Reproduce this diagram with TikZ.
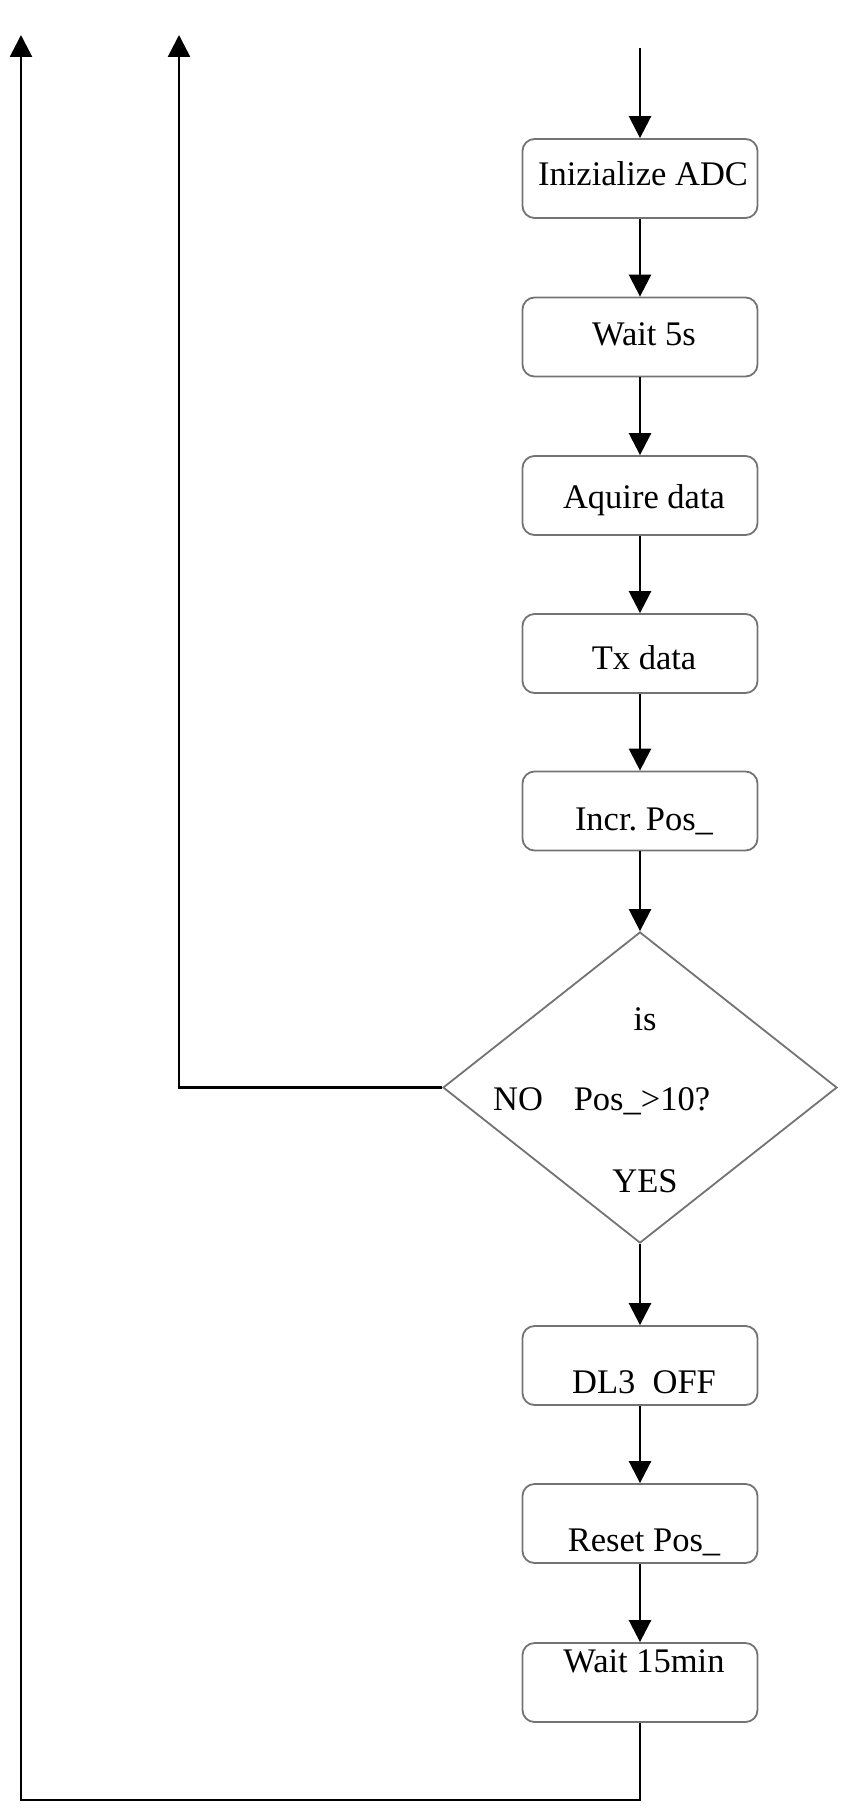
\documentclass[tikz,border=0pt]{standalone}
\usepackage{fontspec}
\setmainfont{Liberation Serif}
\usepackage{tikz}
\tikzset{
    flowbox/.style={draw=black!55, line width=0.9pt, rounded corners=6pt, minimum width=117.5pt, minimum height=39.5pt, inner sep=0pt},
    flowdecision/.style={draw=black!55, line width=0.9pt, diamond, minimum width=197pt, minimum height=155.5pt, inner sep=0pt},
    flowtext/.style={anchor=base, inner sep=0pt, font=\fontsize{17.25}{20}\selectfont},
    flowline/.style={line width=1.3pt, -{Triangle[length=11pt, width=11pt]}}
}
\usetikzlibrary{arrows.meta,shapes.geometric}

\begin{document}
\begin{tikzpicture}[x=0.5pt, y=-0.5pt]
    \useasboundingbox (0,0) rectangle (842,1809);
    % boxes
    \node[flowbox] (init) at (640,178.5) {};
    \node[flowbox] (wait) at (640,337) {};
    \node[flowbox] (aquire) at (640,495.5) {};
    \node[flowbox] (tx) at (640,653.5) {};
    \node[flowbox] (incr) at (640,811) {};
    \node[flowdecision] (test) at (640,1087.5) {};
    \node[flowbox] (dloff) at (640,1365.5) {};
    \node[flowbox] (reset) at (640,1523.5) {};
    \node[flowbox] (longwait) at (640,1682.5) {};
    % texts
    \node[flowtext] (tinit) at (643,185) {Inizialize ADC};
    \node[flowtext] (twait) at (644,345) {Wait 5s};
    \node[flowtext] (taquire) at (644,508) {Aquire data};
    \node[flowtext] (ttx) at (644,669) {Tx data};
    \node[flowtext] (tincr) at (644,830) {Incr.\ Pos\_};
    \node[flowtext] (tis) at (645,1030) {is};
    \node[flowtext] (tno) at (518,1110) {NO};
    \node[flowtext] (tcond) at (642,1110) {Pos\_>10?};
    \node[flowtext] (tyes) at (645,1192) {YES};
    \node[flowtext] (tdloff) at (644,1393) {DL3\ \ OFF};
    \node[flowtext] (treset) at (644,1551) {Reset Pos\_};
    \node[flowtext] (tlongwait) at (644,1672) {Wait 15min};
    % loose ends
    \coordinate (entry) at (640,48);
    \coordinate (outer) at (21,35);
    \coordinate (inner) at (179,35);
    \coordinate (corner) at (21,1800);
    % main flow
    \draw[flowline] (entry) -- (init.north);
    \draw[flowline] (init) -- (wait);
    \draw[flowline] (wait) -- (aquire);
    \draw[flowline] (aquire) -- (tx);
    \draw[flowline] (tx) -- (incr);
    \draw[flowline] (incr) -- (test);
    \draw[flowline] (test) -- (dloff);
    \draw[flowline] (dloff) -- (reset);
    \draw[flowline] (reset) -- (longwait);
    % loops back
    \draw[flowline] (test.west) -- (test.west -| inner) -- (inner);
    \draw[flowline] (longwait.south) -- (longwait.south |- corner) -- (corner) -- (outer);
\end{tikzpicture}
\end{document}
